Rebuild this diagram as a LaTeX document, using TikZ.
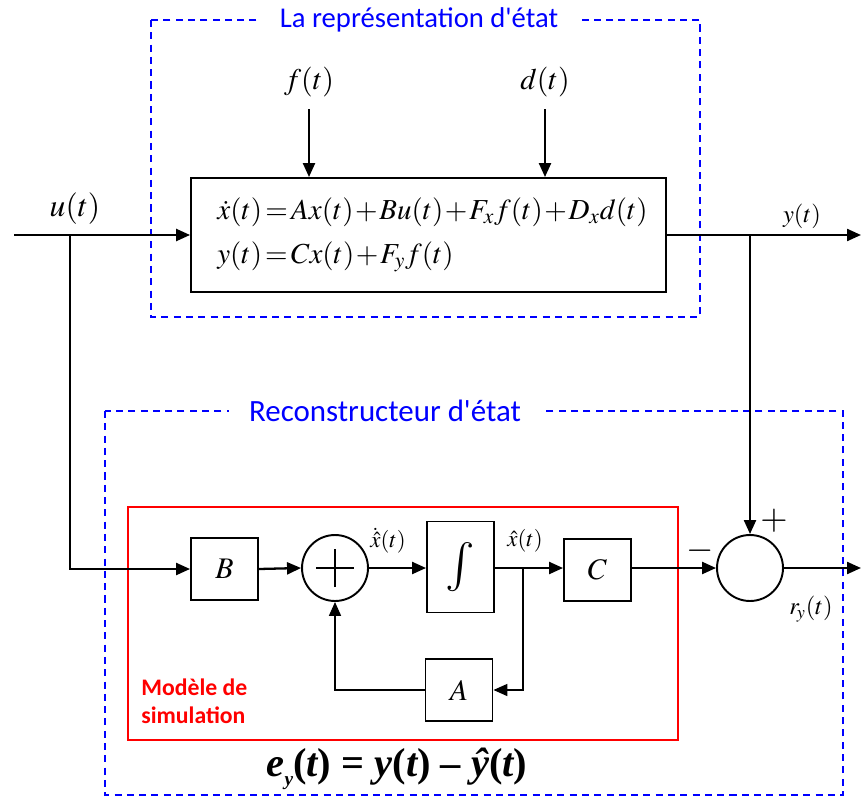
\documentclass[tikz,border=0pt]{standalone}
\usepackage{mathptmx}
\usepackage{fontspec}
\newfontfamily\calib{Carlito}
\newfontfamily\timesf{Liberation Serif}
\usetikzlibrary{positioning, arrows.meta, calc}
\definecolor{frameBlue}{HTML}{0000FF}
\definecolor{simRed}{HTML}{FF0000}
\tikzset{
  sig/.style={-{Triangle[length=0.28cm, width=0.24cm]}, line width=1.3pt},
  fbsig/.style={-{Triangle[length=0.28cm, width=0.24cm]}, line width=1pt},
  blk/.style={draw, line width=1.1pt, minimum width=1.34cm, minimum height=1.24cm,
    inner sep=0pt, font=\fontsize{17}{20}\selectfont},
  sumnode/.style={draw, circle, line width=1.1pt, minimum size=1.32cm, inner sep=0pt},
  dashframe/.style={draw=frameBlue, dash pattern=on 4pt off 3pt, line width=0.9pt},
  frametitle/.style={fill=white, text=frameBlue, inner xsep=0.4cm, inner ysep=1pt,
    font=\calib\fontsize{16.3}{18}\selectfont},
  biglabel/.style={font=\fontsize{17}{20}\selectfont, inner sep=1pt},
  smalllabel/.style={font=\fontsize{14}{16}\selectfont, inner sep=1pt},
  eqline/.style={anchor=west, font=\fontsize{16.5}{20}\selectfont, inner sep=0pt,
    execute at begin node={\medmuskip=1mu\thickmuskip=2mu}},
}
\begin{document}
\begin{tikzpicture}[x=0.02cm, y=-0.02cm]
  \useasboundingbox (0,0) rectangle (862,797);
  % frames
  \draw[dashframe] (151,20) rectangle (700,317);
  \node[frametitle] (reptitle) at (419,20) {La représentation d'état};
  \draw[dashframe] (105,411) rectangle (843,795);
  \node[frametitle, font=\calib\fontsize{17.6}{20}\selectfont] (rectitle) at (385,411) {Reconstructeur d'état};
  \draw[simRed, line width=1.6pt] (128,507) rectangle (678,740);
  \node[anchor=north west, text=simRed, align=left, inner sep=0pt,
    font=\calib\bfseries\fontsize{13.5}{15.5}\selectfont] (simlabel) at (141,679) {Modèle de\\simulation};

  % system
  \node[draw, line width=1.1pt, minimum width=9.5cm, minimum height=2.28cm] (sys) at (428.5,235) {};
  \node[eqline] (eqone) at (217,212) {$\dot{x}(t)=Ax(t)+Bu(t)+F_x f(t)+D_x d(t)$};
  \node[eqline] (eqtwo) at (217,257) {$y(t)=Cx(t)+F_y f(t)$};
  \node[biglabel] (flab) at (309,82) {$f(t)$};
  \node[biglabel] (dlab) at (545,82) {$d(t)$};
  \draw[sig] ([yshift=-0.2cm]flab.south) -- (flab.south |- sys.north);
  \draw[sig] ([yshift=-0.2cm]dlab.south) -- (dlab.south |- sys.north);

  % input / output
  \coordinate (uin) at (14,235);
  \coordinate (ubr) at (70,235);
  \node[biglabel, font=\fontsize{18}{20}\selectfont] (ulab) at (75,209) {$u(t)$};
  \draw[sig] (uin) -- (uin -| sys.west);
  \coordinate (yout) at (861,235);
  \coordinate (ybr) at (750,235);
  \node[smalllabel] (ylab) at (802,216) {$y(t)$};
  \draw[sig] (sys.east) -- (yout);

  % observer
  \node[blk] (bblk) at (224.5,569) {$B$};
  \node[sumnode] (sumx) at (335,568) {};
  \draw[line width=1.1pt] ([xshift=-0.38cm]sumx.center) -- ([xshift=0.38cm]sumx.center)
    ([yshift=-0.38cm]sumx.center) -- ([yshift=0.38cm]sumx.center);
  \node[blk, minimum height=1.82cm] (intg) at (460.5,567) {\fontsize{28}{30}\selectfont$\textstyle\int$};
  \node[blk] (cblk) at (597.5,570) {$C$};
  \node[blk] (ablk) at (459,690) {$A$};
  \node[sumnode] (err) at (750,568) {};
  \coordinate (xbr) at (523,568);
  \coordinate (rout) at (861,568);

  \draw[sig] (ubr) |- (bblk.west);
  \draw[sig] (bblk.east) -- (sumx.west);
  \draw[sig] (sumx.east) -- (sumx.east -| intg.west);
  \draw[sig] (intg.east |- sumx.east) -- (cblk.west |- sumx.east);
  \draw[fbsig] (xbr) |- (ablk.east);
  \draw[fbsig] (ablk.west) -| (sumx.south);
  \draw[sig] (cblk.east |- err.west) -- (err.west);
  \draw[sig] (ybr) -- (err.north);
  \draw[sig] (err.east) -- (rout);

  \node[smalllabel, font=\fontsize{13}{15}\selectfont] (xdlab) at (388,541) {$\dot{\hat{x}}(t)$};
  \node[smalllabel, font=\fontsize{13}{15}\selectfont] (xhlab) at (525,541) {$\hat{x}(t)$};
  \node[font=\fontsize{20}{20}\selectfont, inner sep=0pt] (minus) at (700,551) {$-$};
  \node[font=\fontsize{20}{20}\selectfont, inner sep=0pt] (plus) at (774,521) {$+$};
  \node[smalllabel] (rlab) at (811,609) {$r_{\!y}(t)$};
  \node[inner sep=0pt, font=\timesf\bfseries\fontsize{23}{26}\selectfont] (errlab) at (397,769)
    {\itshape e\raisebox{-0.45ex}{\fontsize{11}{11}\selectfont y}\upshape(\itshape t\upshape) = \itshape y\upshape(\itshape t\upshape) – \itshape ŷ\upshape(\itshape t\upshape)};
\end{tikzpicture}
\end{document}
